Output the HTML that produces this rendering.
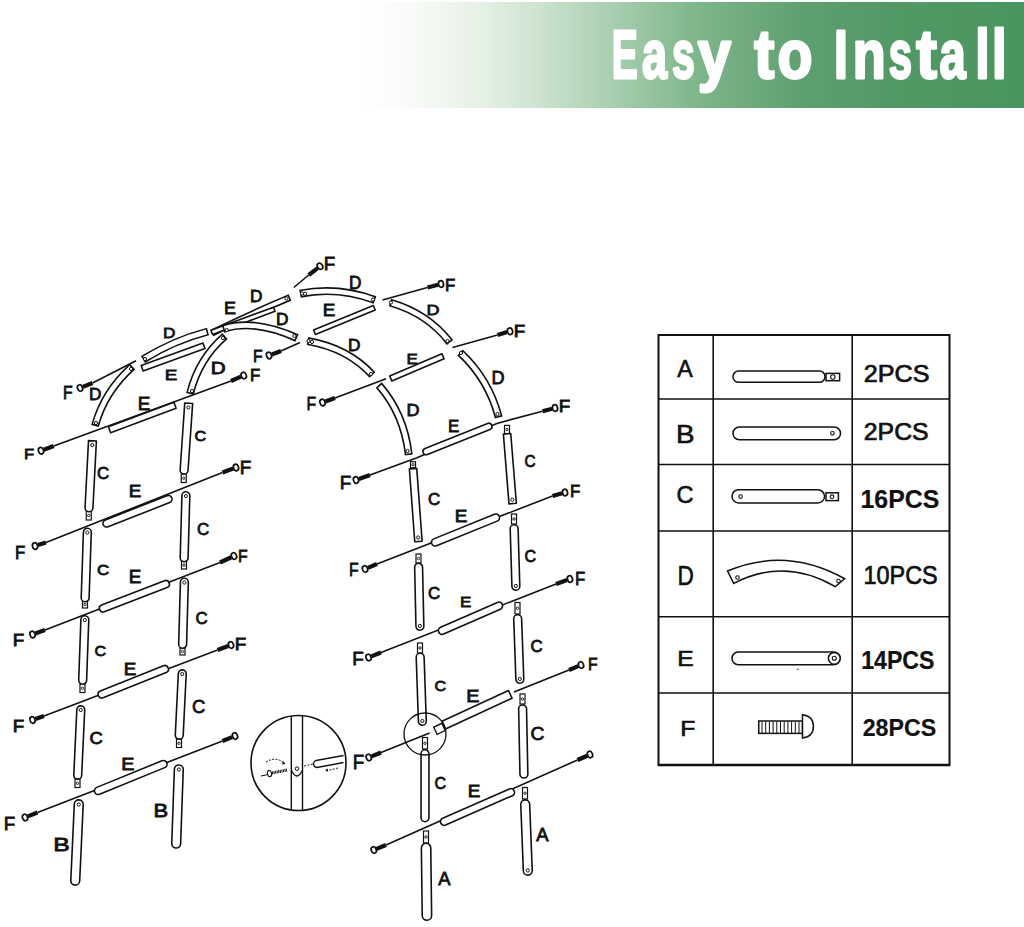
<!DOCTYPE html>
<html><head><meta charset="utf-8"><style>
html,body{margin:0;padding:0;background:#fff;}
body{width:1024px;height:927px;overflow:hidden;position:relative;}
svg{position:absolute;left:0;top:0;}
text{font-family:"Liberation Sans",sans-serif;fill:#111;stroke:#111;stroke-width:0.6;}
text.ttl{fill:#fff;stroke:#fff;stroke-width:2.8;stroke-linejoin:round;}
</style></head><body>
<svg width="1024" height="927" viewBox="0 0 1024 927">
<defs>
<linearGradient id="bn" x1="362" y1="0" x2="1024" y2="0" gradientUnits="userSpaceOnUse">
<stop offset="0" stop-color="#ffffff"/>
<stop offset="0.088" stop-color="#f7faf6"/>
<stop offset="0.178" stop-color="#e6f1e6"/>
<stop offset="0.269" stop-color="#cce3cf"/>
<stop offset="0.37" stop-color="#abd0b2"/>
<stop offset="0.51" stop-color="#7db58a"/>
<stop offset="0.672" stop-color="#5e9f6f"/>
<stop offset="0.813" stop-color="#519865"/>
<stop offset="1" stop-color="#4a955f"/>
</linearGradient>
</defs>
<rect x="362" y="2" width="662" height="106" fill="url(#bn)"/>
<g font-size="68" font-weight="bold"><text x="611.69" y="77.7" textLength="26.04" lengthAdjust="spacingAndGlyphs" class="ttl">E</text><text x="641.98" y="77.7" textLength="25.03" lengthAdjust="spacingAndGlyphs" class="ttl">a</text><text x="671.96" y="77.7" textLength="22.83" lengthAdjust="spacingAndGlyphs" class="ttl">s</text><text x="697.63" y="77.7" textLength="33.29" lengthAdjust="spacingAndGlyphs" class="ttl">y</text><text x="754.26" y="77.7" textLength="20.07" lengthAdjust="spacingAndGlyphs" class="ttl">t</text><text x="777.46" y="77.7" textLength="34.97" lengthAdjust="spacingAndGlyphs" class="ttl">o</text><text x="833.96" y="77.7" textLength="13.89" lengthAdjust="spacingAndGlyphs" class="ttl">I</text><text x="852.75" y="77.7" textLength="32.89" lengthAdjust="spacingAndGlyphs" class="ttl">n</text><text x="888.63" y="77.7" textLength="23.29" lengthAdjust="spacingAndGlyphs" class="ttl">s</text><text x="916.24" y="77.7" textLength="20.61" lengthAdjust="spacingAndGlyphs" class="ttl">t</text><text x="939.52" y="77.7" textLength="26.18" lengthAdjust="spacingAndGlyphs" class="ttl">a</text><text x="975.19" y="77.7" textLength="14.38" lengthAdjust="spacingAndGlyphs" class="ttl">l</text><text x="992.04" y="77.7" textLength="14.58" lengthAdjust="spacingAndGlyphs" class="ttl">l</text></g>
<g>
<line x1="308.75" y1="275" x2="293.75" y2="287.5" stroke="#111" stroke-width="1.6"/>
<line x1="427.5" y1="287.5" x2="382.5" y2="300" stroke="#111" stroke-width="1.6"/>
<line x1="497.5" y1="335" x2="452.5" y2="347.5" stroke="#111" stroke-width="1.6"/>
<line x1="281" y1="351" x2="300" y2="342.5" stroke="#111" stroke-width="1.6"/>
<line x1="92.5" y1="383" x2="136" y2="360.75" stroke="#111" stroke-width="1.6"/>
<line x1="335" y1="398" x2="386" y2="378.75" stroke="#111" stroke-width="1.6"/>
<line x1="53.75" y1="446" x2="231" y2="381" stroke="#111" stroke-width="1.6"/>
<line x1="46" y1="542.5" x2="222.5" y2="472.5" stroke="#111" stroke-width="1.6"/>
<line x1="45" y1="630" x2="220" y2="562.5" stroke="#111" stroke-width="1.6"/>
<line x1="44" y1="716" x2="217.5" y2="650" stroke="#111" stroke-width="1.6"/>
<line x1="37.5" y1="812.5" x2="222.5" y2="741" stroke="#111" stroke-width="1.6"/>
<line x1="370" y1="475" x2="417" y2="457.8" stroke="#111" stroke-width="1.6"/>
<line x1="417" y1="457.8" x2="496.9" y2="423.4" stroke="#111" stroke-width="1.6"/>
<line x1="496.9" y1="423.4" x2="542.5" y2="411.25" stroke="#111" stroke-width="1.6"/>
<line x1="377" y1="564" x2="552.5" y2="496" stroke="#111" stroke-width="1.6"/>
<line x1="381" y1="652.5" x2="556" y2="584" stroke="#111" stroke-width="1.6"/>
<line x1="381" y1="752.5" x2="429.6" y2="733" stroke="#111" stroke-width="1.6"/>
<line x1="514" y1="692" x2="569" y2="670" stroke="#111" stroke-width="1.6"/>
<line x1="386" y1="845" x2="577.5" y2="760" stroke="#111" stroke-width="1.6"/>
<path d="M308.75,275 L317.63,268.09" stroke="#111" stroke-width="4.2" fill="none"/>
<ellipse cx="320" cy="266.25" rx="2.5" ry="3.3" transform="rotate(-37.87 320 266.25)" fill="#fff" stroke="#111" stroke-width="1.7"/>
<path d="M427.5,287.5 L438.1,284.75" stroke="#111" stroke-width="4.2" fill="none"/>
<ellipse cx="441" cy="284" rx="2.5" ry="3.3" transform="rotate(-14.53 441 284)" fill="#fff" stroke="#111" stroke-width="1.7"/>
<path d="M497.5,335 L507.13,332.11" stroke="#111" stroke-width="4.2" fill="none"/>
<ellipse cx="510" cy="331.25" rx="2.5" ry="3.3" transform="rotate(-16.7 510 331.25)" fill="#fff" stroke="#111" stroke-width="1.7"/>
<path d="M542.5,411.25 L552.1,408.75" stroke="#111" stroke-width="4.2" fill="none"/>
<ellipse cx="555" cy="408" rx="2.5" ry="3.3" transform="rotate(-14.57 555 408)" fill="#fff" stroke="#111" stroke-width="1.7"/>
<path d="M281,351 L271.81,354.45" stroke="#111" stroke-width="4.2" fill="none"/>
<ellipse cx="269" cy="355.5" rx="2.5" ry="3.3" transform="rotate(159.44 269 355.5)" fill="#fff" stroke="#111" stroke-width="1.7"/>
<path d="M231,381 L241,376.69" stroke="#111" stroke-width="4.2" fill="none"/>
<ellipse cx="243.75" cy="375.5" rx="2.5" ry="3.3" transform="rotate(-23.33 243.75 375.5)" fill="#fff" stroke="#111" stroke-width="1.7"/>
<path d="M53.75,446 L43.81,449.7" stroke="#111" stroke-width="4.2" fill="none"/>
<ellipse cx="41" cy="450.75" rx="2.5" ry="3.3" transform="rotate(159.57 41 450.75)" fill="#fff" stroke="#111" stroke-width="1.7"/>
<path d="M92.5,383 L82.79,386.89" stroke="#111" stroke-width="4.2" fill="none"/>
<ellipse cx="80" cy="388" rx="2.5" ry="3.3" transform="rotate(158.2 80 388)" fill="#fff" stroke="#111" stroke-width="1.7"/>
<path d="M335,398 L325.32,401.48" stroke="#111" stroke-width="4.2" fill="none"/>
<ellipse cx="322.5" cy="402.5" rx="2.5" ry="3.3" transform="rotate(160.2 322.5 402.5)" fill="#fff" stroke="#111" stroke-width="1.7"/>
<path d="M46,542.5 L37.86,545.09" stroke="#111" stroke-width="4.2" fill="none"/>
<ellipse cx="35" cy="546" rx="2.5" ry="3.3" transform="rotate(162.35 35 546)" fill="#fff" stroke="#111" stroke-width="1.7"/>
<path d="M222.5,472.5 L233.19,468.54" stroke="#111" stroke-width="4.2" fill="none"/>
<ellipse cx="236" cy="467.5" rx="2.5" ry="3.3" transform="rotate(-20.32 236 467.5)" fill="#fff" stroke="#111" stroke-width="1.7"/>
<path d="M45,630 L35.32,633.48" stroke="#111" stroke-width="4.2" fill="none"/>
<ellipse cx="32.5" cy="634.5" rx="2.5" ry="3.3" transform="rotate(160.2 32.5 634.5)" fill="#fff" stroke="#111" stroke-width="1.7"/>
<path d="M220,562.5 L231.28,557.26" stroke="#111" stroke-width="4.2" fill="none"/>
<ellipse cx="234" cy="556" rx="2.5" ry="3.3" transform="rotate(-24.9 234 556)" fill="#fff" stroke="#111" stroke-width="1.7"/>
<path d="M44,716 L35.33,719.01" stroke="#111" stroke-width="4.2" fill="none"/>
<ellipse cx="32.5" cy="720" rx="2.5" ry="3.3" transform="rotate(160.82 32.5 720)" fill="#fff" stroke="#111" stroke-width="1.7"/>
<path d="M217.5,650 L228.19,646.04" stroke="#111" stroke-width="4.2" fill="none"/>
<ellipse cx="231" cy="645" rx="2.5" ry="3.3" transform="rotate(-20.32 231 645)" fill="#fff" stroke="#111" stroke-width="1.7"/>
<path d="M37.5,812.5 L27.79,816.39" stroke="#111" stroke-width="4.2" fill="none"/>
<ellipse cx="25" cy="817.5" rx="2.5" ry="3.3" transform="rotate(158.2 25 817.5)" fill="#fff" stroke="#111" stroke-width="1.7"/>
<path d="M222.5,741 L232.21,737.11" stroke="#111" stroke-width="4.2" fill="none"/>
<ellipse cx="235" cy="736" rx="2.5" ry="3.3" transform="rotate(-21.8 235 736)" fill="#fff" stroke="#111" stroke-width="1.7"/>
<path d="M370,475 L358.83,478.99" stroke="#111" stroke-width="4.2" fill="none"/>
<ellipse cx="356" cy="480" rx="2.5" ry="3.3" transform="rotate(160.35 356 480)" fill="#fff" stroke="#111" stroke-width="1.7"/>
<path d="M552.5,496 L562.11,493.31" stroke="#111" stroke-width="4.2" fill="none"/>
<ellipse cx="565" cy="492.5" rx="2.5" ry="3.3" transform="rotate(-15.64 565 492.5)" fill="#fff" stroke="#111" stroke-width="1.7"/>
<path d="M377,564 L367.77,567.85" stroke="#111" stroke-width="4.2" fill="none"/>
<ellipse cx="365" cy="569" rx="2.5" ry="3.3" transform="rotate(157.38 365 569)" fill="#fff" stroke="#111" stroke-width="1.7"/>
<path d="M556,584 L567.17,580.01" stroke="#111" stroke-width="4.2" fill="none"/>
<ellipse cx="570" cy="579" rx="2.5" ry="3.3" transform="rotate(-19.65 570 579)" fill="#fff" stroke="#111" stroke-width="1.7"/>
<path d="M381,652.5 L371.29,656.39" stroke="#111" stroke-width="4.2" fill="none"/>
<ellipse cx="368.5" cy="657.5" rx="2.5" ry="3.3" transform="rotate(158.2 368.5 657.5)" fill="#fff" stroke="#111" stroke-width="1.7"/>
<path d="M569,670 L578.23,666.15" stroke="#111" stroke-width="4.2" fill="none"/>
<ellipse cx="581" cy="665" rx="2.5" ry="3.3" transform="rotate(-22.62 581 665)" fill="#fff" stroke="#111" stroke-width="1.7"/>
<path d="M381,752.5 L371.53,756.37" stroke="#111" stroke-width="4.2" fill="none"/>
<ellipse cx="368.75" cy="757.5" rx="2.5" ry="3.3" transform="rotate(157.8 368.75 757.5)" fill="#fff" stroke="#111" stroke-width="1.7"/>
<path d="M386,845 L376.53,848.87" stroke="#111" stroke-width="4.2" fill="none"/>
<ellipse cx="373.75" cy="850" rx="2.5" ry="3.3" transform="rotate(157.8 373.75 850)" fill="#fff" stroke="#111" stroke-width="1.7"/>
<path d="M577.5,760 L587.25,755.71" stroke="#111" stroke-width="4.2" fill="none"/>
<ellipse cx="590" cy="754.5" rx="2.5" ry="3.3" transform="rotate(-23.75 590 754.5)" fill="#fff" stroke="#111" stroke-width="1.7"/>
<path d="M95,426 Q104.25,391.75 132.5,366.5" stroke="#111" stroke-width="8" stroke-linecap="butt" fill="none"/>
<path d="M95.42,424.46 Q104.64,391.99 131.31,367.57" stroke="#fff" stroke-width="4.8" stroke-linecap="butt" fill="none"/>
<circle cx="131" cy="369" r="1.6" fill="#fff" stroke="#111" stroke-width="1.0"/>
<circle cx="96" cy="423" r="1.6" fill="#fff" stroke="#111" stroke-width="1.0"/>
<path d="M143.16,371 L204.96,348.55 L202.94,343 L141.14,365.45 Z" fill="#fff" stroke="#111" stroke-width="1.6" stroke-linejoin="round"/>
<path d="M143,359.5 Q173.5,340.5 208,331.5" stroke="#111" stroke-width="8" stroke-linecap="butt" fill="none"/>
<path d="M144.36,358.65 Q173.6,340.72 206.45,331.9" stroke="#fff" stroke-width="4.8" stroke-linecap="butt" fill="none"/>
<circle cx="145" cy="359" r="1.6" fill="#fff" stroke="#111" stroke-width="1.0"/>
<path d="M212,333 Q251,313.75 290,297.5" stroke="#111" stroke-width="7" stroke-linecap="butt" fill="none"/>
<path d="M213.43,332.29 Q251.02,313.8 288.52,298.12" stroke="#fff" stroke-width="3.8" stroke-linecap="butt" fill="none"/>
<circle cx="286.4" cy="298.5" r="1.6" fill="#fff" stroke="#111" stroke-width="1.0"/>
<path d="M212.51,334.49 L275.01,311.34 L273.49,307.21 L210.99,330.36 Z" fill="#fff" stroke="#111" stroke-width="1.6" stroke-linejoin="round"/>
<path d="M300,293.75 Q337.5,286.12 375,300" stroke="#111" stroke-width="8" stroke-linecap="butt" fill="none"/>
<path d="M301.57,293.43 Q337.47,286.56 373.5,299.44" stroke="#fff" stroke-width="4.8" stroke-linecap="butt" fill="none"/>
<circle cx="302" cy="293.5" r="1.6" fill="#fff" stroke="#111" stroke-width="1.0"/>
<circle cx="305" cy="293.8" r="1.6" fill="#fff" stroke="#111" stroke-width="1.0"/>
<circle cx="373" cy="299.5" r="1.6" fill="#fff" stroke="#111" stroke-width="1.0"/>
<path d="M390,302.5 Q428,313.5 450,342.5" stroke="#111" stroke-width="8" stroke-linecap="butt" fill="none"/>
<path d="M391.54,302.94 Q427.72,313.91 449.03,341.23" stroke="#fff" stroke-width="4.8" stroke-linecap="butt" fill="none"/>
<circle cx="391" cy="302.5" r="1.6" fill="#fff" stroke="#111" stroke-width="1.0"/>
<circle cx="447.5" cy="341" r="1.6" fill="#fff" stroke="#111" stroke-width="1.0"/>
<path d="M460,352.5 Q488.62,379 498.75,417.5" stroke="#111" stroke-width="8" stroke-linecap="butt" fill="none"/>
<path d="M461.17,353.59 Q488.24,379.23 498.34,415.95" stroke="#fff" stroke-width="4.8" stroke-linecap="butt" fill="none"/>
<circle cx="461" cy="353" r="1.6" fill="#fff" stroke="#111" stroke-width="1.0"/>
<circle cx="497.5" cy="414" r="1.6" fill="#fff" stroke="#111" stroke-width="1.0"/>
<path d="M190,394 Q198.5,359 225,336" stroke="#111" stroke-width="8" stroke-linecap="butt" fill="none"/>
<path d="M190.38,392.45 Q198.92,359.25 223.79,337.05" stroke="#fff" stroke-width="4.8" stroke-linecap="butt" fill="none"/>
<circle cx="192" cy="391" r="1.6" fill="#fff" stroke="#111" stroke-width="1.0"/>
<circle cx="223" cy="338" r="1.6" fill="#fff" stroke="#111" stroke-width="1.0"/>
<path d="M223,329 Q254,318.5 297,338" stroke="#111" stroke-width="8" stroke-linecap="butt" fill="none"/>
<path d="M224.52,328.49 Q253.97,319.09 295.54,337.34" stroke="#fff" stroke-width="4.8" stroke-linecap="butt" fill="none"/>
<circle cx="226.7" cy="330" r="1.6" fill="#fff" stroke="#111" stroke-width="1.0"/>
<circle cx="294.4" cy="336" r="1.6" fill="#fff" stroke="#111" stroke-width="1.0"/>
<path d="M307.5,341 Q348,348 372.5,375" stroke="#111" stroke-width="8" stroke-linecap="butt" fill="none"/>
<path d="M309.08,341.27 Q347.75,348.46 371.42,373.82" stroke="#fff" stroke-width="4.8" stroke-linecap="butt" fill="none"/>
<circle cx="308.5" cy="341" r="1.6" fill="#fff" stroke="#111" stroke-width="1.0"/>
<circle cx="312" cy="342" r="1.6" fill="#fff" stroke="#111" stroke-width="1.0"/>
<circle cx="371" cy="374" r="1.6" fill="#fff" stroke="#111" stroke-width="1.0"/>
<path d="M378.75,385 Q404.25,414 408.75,455" stroke="#111" stroke-width="8" stroke-linecap="butt" fill="none"/>
<path d="M379.81,386.2 Q403.81,414.19 408.58,453.41" stroke="#fff" stroke-width="4.8" stroke-linecap="butt" fill="none"/>
<circle cx="407.5" cy="451" r="1.6" fill="#fff" stroke="#111" stroke-width="1.0"/>
<path d="M110.62,432.72 L176.12,408.28 L173.88,402.28 L108.38,426.72 Z" fill="#fff" stroke="#111" stroke-width="1.6" stroke-linejoin="round"/>
<path d="M315.42,334.47 L375.19,310.07 L373.33,305.53 L313.56,329.93 Z" fill="#fff" stroke="#111" stroke-width="1.6" stroke-linejoin="round"/>
<path d="M391.79,380.92 L444.07,358.8 L441.96,353.83 L389.68,375.95 Z" fill="#fff" stroke="#111" stroke-width="1.6" stroke-linejoin="round"/>
<path d="M427.4,454.49 L489.97,429.46 A3.2 3.2 0 0 0 487.6,423.51 L425.03,448.54 A3.2 3.2 0 0 0 427.4,454.49 Z" fill="#fff" stroke="#111" stroke-width="1.6" stroke-linejoin="round"/>
<path d="M108.04,526.8 L169.66,502.59 A3.7 3.7 0 0 0 166.96,495.7 L105.34,519.91 A3.7 3.7 0 0 0 108.04,526.8 Z" fill="#fff" stroke="#111" stroke-width="1.6" stroke-linejoin="round"/>
<path d="M104.28,611.83 L167.13,587.57 A3.7 3.7 0 0 0 164.47,580.67 L101.62,604.93 A3.7 3.7 0 0 0 104.28,611.83 Z" fill="#fff" stroke="#111" stroke-width="1.6" stroke-linejoin="round"/>
<path d="M103.05,697.77 L166.19,672.6 A3.7 3.7 0 0 0 163.45,665.73 L100.31,690.9 A3.7 3.7 0 0 0 103.05,697.77 Z" fill="#fff" stroke="#111" stroke-width="1.6" stroke-linejoin="round"/>
<path d="M99.56,794.23 L164.73,767.63 A3.7 3.7 0 0 0 161.94,760.77 L96.77,787.37 A3.7 3.7 0 0 0 99.56,794.23 Z" fill="#fff" stroke="#111" stroke-width="1.6" stroke-linejoin="round"/>
<path d="M436.56,545.74 L497.22,521.12 A3.7 3.7 0 0 0 494.44,514.26 L433.78,538.88 A3.7 3.7 0 0 0 436.56,545.74 Z" fill="#fff" stroke="#111" stroke-width="1.6" stroke-linejoin="round"/>
<path d="M443.61,634.08 L500.36,609.2 A3.7 3.7 0 0 0 497.39,602.42 L440.64,627.3 A3.7 3.7 0 0 0 443.61,634.08 Z" fill="#fff" stroke="#111" stroke-width="1.6" stroke-linejoin="round"/>
<path d="M445.61,825.07 L512.37,795.7 A3.7 3.7 0 0 0 509.39,788.93 L442.63,818.3 A3.7 3.7 0 0 0 445.61,825.07 Z" fill="#fff" stroke="#111" stroke-width="1.6" stroke-linejoin="round"/>
<path d="M445.49,728.97 L512.04,698.15 L508.51,690.53 L441.96,721.35 Z" fill="#fff" stroke="#111" stroke-width="1.6" stroke-linejoin="round"/>
<rect x="435" y="724.8" width="9" height="8" transform="rotate(-25 439.5 728.8)" fill="#fff" stroke="#111" stroke-width="1.4"/>
<rect x="86.25" y="511" width="5" height="9" fill="#fff" stroke="#111" stroke-width="1.2"/>
<circle cx="88.75" cy="515.5" r="1.2" fill="#fff" stroke="#111" stroke-width="0.9"/>
<path d="M88.51,440.59 L85.05,507.55 A3.95 3.95 0 0 0 92.94,507.96 L96.4,441 Z" fill="#fff" stroke="#111" stroke-width="1.6" stroke-linejoin="round"/>
<circle cx="92.24" cy="445.04" r="1.6" fill="#fff" stroke="#111" stroke-width="1.0"/>
<rect x="82.5" y="601" width="5" height="7" fill="#fff" stroke="#111" stroke-width="1.2"/>
<circle cx="85" cy="604.5" r="1.2" fill="#fff" stroke="#111" stroke-width="0.9"/>
<path d="M83.39,532.12 L81.21,597.62 A3.95 3.95 0 0 0 89.11,597.88 L91.29,532.38 A3.95 3.95 0 0 0 83.39,532.12 Z" fill="#fff" stroke="#111" stroke-width="1.6" stroke-linejoin="round"/>
<circle cx="87.33" cy="532.55" r="1.6" fill="#fff" stroke="#111" stroke-width="1.0"/>
<rect x="80" y="684" width="5" height="8.5" fill="#fff" stroke="#111" stroke-width="1.2"/>
<circle cx="82.5" cy="688.25" r="1.2" fill="#fff" stroke="#111" stroke-width="0.9"/>
<path d="M80.88,619.61 L78.72,680.11 A3.95 3.95 0 0 0 86.62,680.39 L88.78,619.89 A3.95 3.95 0 0 0 80.88,619.61 Z" fill="#fff" stroke="#111" stroke-width="1.6" stroke-linejoin="round"/>
<circle cx="84.82" cy="620.05" r="1.6" fill="#fff" stroke="#111" stroke-width="1.0"/>
<rect x="75" y="779" width="5" height="8.5" fill="#fff" stroke="#111" stroke-width="1.2"/>
<circle cx="77.5" cy="783.25" r="1.2" fill="#fff" stroke="#111" stroke-width="0.9"/>
<path d="M76.83,709.56 L73.78,775.07 A3.95 3.95 0 0 0 81.67,775.44 L84.72,709.93 A3.95 3.95 0 0 0 76.83,709.56 Z" fill="#fff" stroke="#111" stroke-width="1.6" stroke-linejoin="round"/>
<circle cx="80.76" cy="710.04" r="1.6" fill="#fff" stroke="#111" stroke-width="1.0"/>
<path d="M74.31,804.04 L70.8,880.55 A4.45 4.45 0 0 0 79.69,880.96 L83.2,804.45 A4.45 4.45 0 0 0 74.31,804.04 Z" fill="#fff" stroke="#111" stroke-width="1.6" stroke-linejoin="round"/>
<circle cx="78.75" cy="804.54" r="1.6" fill="#fff" stroke="#111" stroke-width="1.0"/>
<rect x="181.25" y="474" width="5" height="8.5" fill="#fff" stroke="#111" stroke-width="1.2"/>
<circle cx="183.75" cy="478.25" r="1.2" fill="#fff" stroke="#111" stroke-width="0.9"/>
<path d="M184.75,403.03 L180.14,469.99 A3.95 3.95 0 0 0 188.02,470.53 L192.64,403.57 Z" fill="#fff" stroke="#111" stroke-width="1.6" stroke-linejoin="round"/>
<circle cx="188.4" cy="407.54" r="1.6" fill="#fff" stroke="#111" stroke-width="1.0"/>
<rect x="181.5" y="561" width="5" height="8" fill="#fff" stroke="#111" stroke-width="1.2"/>
<circle cx="184" cy="565" r="1.2" fill="#fff" stroke="#111" stroke-width="0.9"/>
<path d="M181.92,495.64 L180.18,557.64 A3.95 3.95 0 0 0 188.08,557.86 L189.82,495.86 A3.95 3.95 0 0 0 181.92,495.64 Z" fill="#fff" stroke="#111" stroke-width="1.6" stroke-linejoin="round"/>
<circle cx="185.86" cy="496.05" r="1.6" fill="#fff" stroke="#111" stroke-width="1.0"/>
<rect x="180" y="648" width="5" height="7" fill="#fff" stroke="#111" stroke-width="1.2"/>
<circle cx="182.5" cy="651.5" r="1.2" fill="#fff" stroke="#111" stroke-width="0.9"/>
<path d="M180.42,582.14 L178.68,644.14 A3.95 3.95 0 0 0 186.58,644.36 L188.32,582.36 A3.95 3.95 0 0 0 180.42,582.14 Z" fill="#fff" stroke="#111" stroke-width="1.6" stroke-linejoin="round"/>
<circle cx="184.36" cy="582.55" r="1.6" fill="#fff" stroke="#111" stroke-width="1.0"/>
<rect x="176.5" y="739" width="5" height="8.5" fill="#fff" stroke="#111" stroke-width="1.2"/>
<circle cx="179" cy="743.25" r="1.2" fill="#fff" stroke="#111" stroke-width="0.9"/>
<path d="M178.32,673.55 L175.29,735.06 A3.95 3.95 0 0 0 183.18,735.45 L186.21,673.94 A3.95 3.95 0 0 0 178.32,673.55 Z" fill="#fff" stroke="#111" stroke-width="1.6" stroke-linejoin="round"/>
<circle cx="182.25" cy="674.04" r="1.6" fill="#fff" stroke="#111" stroke-width="1.0"/>
<path d="M174.37,769.09 L171.74,843.6 A4.45 4.45 0 0 0 180.63,843.91 L183.26,769.4 A4.45 4.45 0 0 0 174.37,769.09 Z" fill="#fff" stroke="#111" stroke-width="1.6" stroke-linejoin="round"/>
<circle cx="178.8" cy="769.55" r="1.6" fill="#fff" stroke="#111" stroke-width="1.0"/>
<rect x="410.5" y="461.7" width="5" height="6.1" fill="#fff" stroke="#111" stroke-width="1.2"/>
<circle cx="413" cy="464.75" r="1.2" fill="#fff" stroke="#111" stroke-width="0.9"/>
<path d="M409.37,468.87 L414.75,541.77 L422.13,541.23 L416.75,468.33 Z" fill="#fff" stroke="#111" stroke-width="1.6" stroke-linejoin="round"/>
<circle cx="418.15" cy="537.51" r="1.6" fill="#fff" stroke="#111" stroke-width="1.0"/>
<rect x="416" y="554" width="5" height="9" fill="#fff" stroke="#111" stroke-width="1.2"/>
<circle cx="418.5" cy="558.5" r="1.2" fill="#fff" stroke="#111" stroke-width="0.9"/>
<path d="M414.65,567.34 L415.95,626.34 A3.95 3.95 0 0 0 423.85,626.16 L422.55,567.16 A3.95 3.95 0 0 0 414.65,567.34 Z" fill="#fff" stroke="#111" stroke-width="1.6" stroke-linejoin="round"/>
<circle cx="419.89" cy="625.95" r="1.6" fill="#fff" stroke="#111" stroke-width="1.0"/>
<rect x="417.5" y="643" width="5" height="10" fill="#fff" stroke="#111" stroke-width="1.2"/>
<circle cx="420" cy="648" r="1.2" fill="#fff" stroke="#111" stroke-width="0.9"/>
<path d="M416.21,657.38 L418.39,721.39 A3.95 3.95 0 0 0 426.29,721.12 L424.11,657.11 A3.95 3.95 0 0 0 416.21,657.38 Z" fill="#fff" stroke="#111" stroke-width="1.6" stroke-linejoin="round"/>
<circle cx="422.33" cy="720.95" r="1.6" fill="#fff" stroke="#111" stroke-width="1.0"/>
<rect x="422.5" y="737.5" width="5" height="11.5" fill="#fff" stroke="#111" stroke-width="1.2"/>
<circle cx="425" cy="743.25" r="1.2" fill="#fff" stroke="#111" stroke-width="0.9"/>
<path d="M421.05,753.75 L421.05,817.75 A3.95 3.95 0 0 0 428.95,817.75 L428.95,753.75 A3.95 3.95 0 0 0 421.05,753.75 Z" fill="#fff" stroke="#111" stroke-width="1.6" stroke-linejoin="round"/>
<rect x="423.5" y="831" width="5" height="12" fill="#fff" stroke="#111" stroke-width="1.2"/>
<circle cx="426" cy="837" r="1.2" fill="#fff" stroke="#111" stroke-width="0.9"/>
<path d="M421.37,848.06 L422.23,915.56 A4.7 4.7 0 0 0 431.63,915.44 L430.77,847.94 A4.7 4.7 0 0 0 421.37,848.06 Z" fill="#fff" stroke="#111" stroke-width="1.6" stroke-linejoin="round"/>
<rect x="504.5" y="425.4" width="5" height="8.2" fill="#fff" stroke="#111" stroke-width="1.2"/>
<circle cx="507" cy="429.5" r="1.2" fill="#fff" stroke="#111" stroke-width="0.9"/>
<path d="M503.38,434.09 L509,503.9 L516.37,503.31 L510.75,433.5 Z" fill="#fff" stroke="#111" stroke-width="1.6" stroke-linejoin="round"/>
<circle cx="512.36" cy="499.62" r="1.6" fill="#fff" stroke="#111" stroke-width="1.0"/>
<rect x="511.5" y="514" width="5" height="10" fill="#fff" stroke="#111" stroke-width="1.2"/>
<circle cx="514" cy="519" r="1.2" fill="#fff" stroke="#111" stroke-width="0.9"/>
<path d="M510.19,528.87 L511.91,586.37 A3.95 3.95 0 0 0 519.81,586.13 L518.09,528.63 A3.95 3.95 0 0 0 510.19,528.87 Z" fill="#fff" stroke="#111" stroke-width="1.6" stroke-linejoin="round"/>
<circle cx="515.85" cy="585.95" r="1.6" fill="#fff" stroke="#111" stroke-width="1.0"/>
<rect x="515" y="602.5" width="5" height="11.5" fill="#fff" stroke="#111" stroke-width="1.2"/>
<circle cx="517.5" cy="608.25" r="1.2" fill="#fff" stroke="#111" stroke-width="0.9"/>
<path d="M513.72,618.89 L515.88,679.39 A3.95 3.95 0 0 0 523.78,679.11 L521.62,618.61 A3.95 3.95 0 0 0 513.72,618.89 Z" fill="#fff" stroke="#111" stroke-width="1.6" stroke-linejoin="round"/>
<circle cx="519.82" cy="678.95" r="1.6" fill="#fff" stroke="#111" stroke-width="1.0"/>
<rect x="520" y="694" width="5" height="10" fill="#fff" stroke="#111" stroke-width="1.2"/>
<circle cx="522.5" cy="699" r="1.2" fill="#fff" stroke="#111" stroke-width="0.9"/>
<path d="M518.65,708.83 L519.96,774.33 A3.95 3.95 0 0 0 527.85,774.17 L526.54,708.67 A3.95 3.95 0 0 0 518.65,708.83 Z" fill="#fff" stroke="#111" stroke-width="1.6" stroke-linejoin="round"/>
<rect x="522.5" y="787.5" width="5" height="11.5" fill="#fff" stroke="#111" stroke-width="1.2"/>
<circle cx="525" cy="793.25" r="1.2" fill="#fff" stroke="#111" stroke-width="0.9"/>
<path d="M520.76,804.42 L523.35,870.93 A4.45 4.45 0 0 0 532.24,870.58 L529.65,804.07 A4.45 4.45 0 0 0 520.76,804.42 Z" fill="#fff" stroke="#111" stroke-width="1.6" stroke-linejoin="round"/>
<circle cx="527.78" cy="870.45" r="1.6" fill="#fff" stroke="#111" stroke-width="1.0"/>
<circle cx="425" cy="734" r="21" fill="none" stroke="#111" stroke-width="1.3"/>
<circle cx="298.5" cy="763" r="47.5" fill="#fff" stroke="#111" stroke-width="1.6"/>
<line x1="291.3" y1="716" x2="291.3" y2="810" stroke="#111" stroke-width="1.4"/>
<line x1="302.5" y1="716" x2="302.5" y2="810" stroke="#111" stroke-width="1.4"/>
<path d="M291.3 770 Q297 782 302.5 770" fill="none" stroke="#111" stroke-width="1.3"/>
<circle cx="297" cy="768.7" r="1.8" fill="#fff" stroke="#111" stroke-width="1.0"/>
<path d="M343.5 755.5 L316 760.5 A3.6 3.6 0 0 0 317 767.5 L343.5 762.5" fill="#fff" stroke="#111" stroke-width="1.3"/>
<line x1="326" y1="771" x2="338" y2="768" stroke="#111" stroke-width="1" stroke-dasharray="2,1.5"/>
<path d="M325 770 l3 -1.5 l-0.5 3 z" fill="#111"/>
<line x1="261" y1="776" x2="268" y2="774.5" stroke="#111" stroke-width="1.1"/>
<line x1="304" y1="766" x2="313" y2="764" stroke="#111" stroke-width="1" stroke-dasharray="2,1.5"/>
<ellipse cx="269.5" cy="773.5" rx="2" ry="3.2" transform="rotate(-15 269.5 773.5)" fill="#fff" stroke="#111" stroke-width="1.1"/>
<path d="M272 773 L287 770" stroke="#111" stroke-width="3" stroke-dasharray="1,0.6"/>
<path d="M266 762 Q276 756 284 763" fill="none" stroke="#111" stroke-width="1" stroke-dasharray="2,1.3"/>
<path d="M283 761 l2.5 3 l-3.5 0.5 z" fill="#111"/>
</g>
<g>
<text x="63.11" y="398.60" font-size="17.73" font-weight="normal" textLength="9.62" lengthAdjust="spacingAndGlyphs" style="stroke-width:0.80">F</text>
<text x="88.99" y="399.60" font-size="17.01" font-weight="normal" textLength="12.44" lengthAdjust="spacingAndGlyphs" style="stroke-width:0.80">D</text>
<text x="24.02" y="458.60" font-size="15.55" font-weight="normal" textLength="10.25" lengthAdjust="spacingAndGlyphs" style="stroke-width:0.80">F</text>
<text x="137.86" y="409.60" font-size="19.19" font-weight="normal" textLength="12.55" lengthAdjust="spacingAndGlyphs" style="stroke-width:0.80">E</text>
<text x="162.99" y="338.10" font-size="15.55" font-weight="normal" textLength="12.44" lengthAdjust="spacingAndGlyphs" style="stroke-width:0.80">D</text>
<text x="164.86" y="379.60" font-size="15.55" font-weight="normal" textLength="12.55" lengthAdjust="spacingAndGlyphs" style="stroke-width:0.80">E</text>
<text x="210.71" y="373.60" font-size="16.28" font-weight="normal" textLength="14.88" lengthAdjust="spacingAndGlyphs" style="stroke-width:0.80">D</text>
<text x="194.58" y="441.46" font-size="14.41" font-weight="normal" textLength="11.63" lengthAdjust="spacingAndGlyphs" style="stroke-width:0.80">C</text>
<text x="223.93" y="314.10" font-size="16.28" font-weight="normal" textLength="11.94" lengthAdjust="spacingAndGlyphs" style="stroke-width:0.80">E</text>
<text x="323.86" y="269.60" font-size="19.19" font-weight="normal" textLength="11.50" lengthAdjust="spacingAndGlyphs" style="stroke-width:0.80">F</text>
<text x="249.99" y="301.60" font-size="16.28" font-weight="normal" textLength="12.44" lengthAdjust="spacingAndGlyphs" style="stroke-width:0.80">D</text>
<text x="275.99" y="325.10" font-size="16.28" font-weight="normal" textLength="12.44" lengthAdjust="spacingAndGlyphs" style="stroke-width:0.80">D</text>
<text x="348.99" y="288.60" font-size="17.73" font-weight="normal" textLength="12.44" lengthAdjust="spacingAndGlyphs" style="stroke-width:0.80">D</text>
<text x="322.86" y="315.60" font-size="16.28" font-weight="normal" textLength="12.55" lengthAdjust="spacingAndGlyphs" style="stroke-width:0.80">E</text>
<text x="445.02" y="290.60" font-size="16.28" font-weight="normal" textLength="10.25" lengthAdjust="spacingAndGlyphs" style="stroke-width:0.80">F</text>
<text x="426.42" y="315.10" font-size="15.55" font-weight="normal" textLength="13.05" lengthAdjust="spacingAndGlyphs" style="stroke-width:0.80">D</text>
<text x="253.11" y="361.60" font-size="17.01" font-weight="normal" textLength="9.62" lengthAdjust="spacingAndGlyphs" style="stroke-width:0.80">F</text>
<text x="347.99" y="350.60" font-size="16.28" font-weight="normal" textLength="12.44" lengthAdjust="spacingAndGlyphs" style="stroke-width:0.80">D</text>
<text x="250.02" y="380.60" font-size="16.28" font-weight="normal" textLength="10.25" lengthAdjust="spacingAndGlyphs" style="stroke-width:0.80">F</text>
<text x="406.51" y="363.60" font-size="15.55" font-weight="normal" textLength="11.32" lengthAdjust="spacingAndGlyphs" style="stroke-width:0.80">E</text>
<text x="306.61" y="409.60" font-size="19.19" font-weight="normal" textLength="9.62" lengthAdjust="spacingAndGlyphs" style="stroke-width:0.80">F</text>
<text x="406.42" y="415.60" font-size="16.28" font-weight="normal" textLength="13.05" lengthAdjust="spacingAndGlyphs" style="stroke-width:0.80">D</text>
<text x="239.86" y="473.60" font-size="17.73" font-weight="normal" textLength="11.50" lengthAdjust="spacingAndGlyphs" style="stroke-width:0.80">F</text>
<text x="513.86" y="337.10" font-size="17.01" font-weight="normal" textLength="11.50" lengthAdjust="spacingAndGlyphs" style="stroke-width:0.80">F</text>
<text x="491.42" y="383.60" font-size="17.73" font-weight="normal" textLength="13.05" lengthAdjust="spacingAndGlyphs" style="stroke-width:0.80">D</text>
<text x="558.86" y="412.10" font-size="17.01" font-weight="normal" textLength="11.50" lengthAdjust="spacingAndGlyphs" style="stroke-width:0.80">F</text>
<text x="448.01" y="432.10" font-size="17.01" font-weight="normal" textLength="11.32" lengthAdjust="spacingAndGlyphs" style="stroke-width:0.80">E</text>
<text x="524.62" y="467.45" font-size="15.82" font-weight="normal" textLength="11.06" lengthAdjust="spacingAndGlyphs" style="stroke-width:0.80">C</text>
<text x="97.04" y="479.44" font-size="16.53" font-weight="normal" textLength="12.20" lengthAdjust="spacingAndGlyphs" style="stroke-width:0.80">C</text>
<text x="97.04" y="574.95" font-size="15.11" font-weight="normal" textLength="12.20" lengthAdjust="spacingAndGlyphs" style="stroke-width:0.80">C</text>
<text x="94.58" y="655.95" font-size="15.11" font-weight="normal" textLength="11.63" lengthAdjust="spacingAndGlyphs" style="stroke-width:0.80">C</text>
<text x="15.02" y="558.60" font-size="17.73" font-weight="normal" textLength="10.25" lengthAdjust="spacingAndGlyphs" style="stroke-width:0.80">F</text>
<text x="12.86" y="645.60" font-size="16.28" font-weight="normal" textLength="11.50" lengthAdjust="spacingAndGlyphs" style="stroke-width:0.80">F</text>
<text x="128.86" y="497.10" font-size="17.01" font-weight="normal" textLength="12.55" lengthAdjust="spacingAndGlyphs" style="stroke-width:0.80">E</text>
<text x="128.86" y="583.10" font-size="17.73" font-weight="normal" textLength="12.55" lengthAdjust="spacingAndGlyphs" style="stroke-width:0.80">E</text>
<text x="197.04" y="535.45" font-size="15.82" font-weight="normal" textLength="12.20" lengthAdjust="spacingAndGlyphs" style="stroke-width:0.80">C</text>
<text x="195.54" y="624.44" font-size="16.53" font-weight="normal" textLength="12.20" lengthAdjust="spacingAndGlyphs" style="stroke-width:0.80">C</text>
<text x="238.11" y="562.10" font-size="17.01" font-weight="normal" textLength="9.62" lengthAdjust="spacingAndGlyphs" style="stroke-width:0.80">F</text>
<text x="234.86" y="649.60" font-size="17.01" font-weight="normal" textLength="11.50" lengthAdjust="spacingAndGlyphs" style="stroke-width:0.80">F</text>
<text x="89.46" y="744.44" font-size="16.53" font-weight="normal" textLength="13.34" lengthAdjust="spacingAndGlyphs" style="stroke-width:0.80">C</text>
<text x="53.37" y="850.60" font-size="18.46" font-weight="normal" textLength="16.54" lengthAdjust="spacingAndGlyphs" style="stroke-width:0.80">B</text>
<text x="12.86" y="732.10" font-size="17.01" font-weight="normal" textLength="11.50" lengthAdjust="spacingAndGlyphs" style="stroke-width:0.80">F</text>
<text x="3.86" y="829.60" font-size="19.19" font-weight="normal" textLength="11.50" lengthAdjust="spacingAndGlyphs" style="stroke-width:0.80">F</text>
<text x="123.86" y="674.60" font-size="17.01" font-weight="normal" textLength="12.55" lengthAdjust="spacingAndGlyphs" style="stroke-width:0.80">E</text>
<text x="121.28" y="769.60" font-size="17.01" font-weight="normal" textLength="13.17" lengthAdjust="spacingAndGlyphs" style="stroke-width:0.80">E</text>
<text x="191.96" y="713.42" font-size="18.64" font-weight="normal" textLength="13.34" lengthAdjust="spacingAndGlyphs" style="stroke-width:0.80">C</text>
<text x="153.60" y="817.10" font-size="18.46" font-weight="normal" textLength="14.66" lengthAdjust="spacingAndGlyphs" style="stroke-width:0.80">B</text>
<text x="428.04" y="505.45" font-size="15.82" font-weight="normal" textLength="12.20" lengthAdjust="spacingAndGlyphs" style="stroke-width:0.80">C</text>
<text x="428.04" y="599.44" font-size="16.53" font-weight="normal" textLength="12.20" lengthAdjust="spacingAndGlyphs" style="stroke-width:0.80">C</text>
<text x="339.86" y="488.60" font-size="19.19" font-weight="normal" textLength="11.50" lengthAdjust="spacingAndGlyphs" style="stroke-width:0.80">F</text>
<text x="349.11" y="575.60" font-size="18.46" font-weight="normal" textLength="9.62" lengthAdjust="spacingAndGlyphs" style="stroke-width:0.80">F</text>
<text x="352.36" y="664.60" font-size="19.19" font-weight="normal" textLength="11.50" lengthAdjust="spacingAndGlyphs" style="stroke-width:0.80">F</text>
<text x="454.86" y="522.10" font-size="17.01" font-weight="normal" textLength="12.55" lengthAdjust="spacingAndGlyphs" style="stroke-width:0.80">E</text>
<text x="460.01" y="607.10" font-size="15.55" font-weight="normal" textLength="11.32" lengthAdjust="spacingAndGlyphs" style="stroke-width:0.80">E</text>
<text x="524.58" y="561.94" font-size="16.53" font-weight="normal" textLength="11.63" lengthAdjust="spacingAndGlyphs" style="stroke-width:0.80">C</text>
<text x="530.54" y="651.94" font-size="16.53" font-weight="normal" textLength="12.20" lengthAdjust="spacingAndGlyphs" style="stroke-width:0.80">C</text>
<text x="570.02" y="497.10" font-size="17.01" font-weight="normal" textLength="10.25" lengthAdjust="spacingAndGlyphs" style="stroke-width:0.80">F</text>
<text x="575.02" y="584.60" font-size="19.19" font-weight="normal" textLength="10.25" lengthAdjust="spacingAndGlyphs" style="stroke-width:0.80">F</text>
<text x="588.11" y="669.60" font-size="17.01" font-weight="normal" textLength="9.62" lengthAdjust="spacingAndGlyphs" style="stroke-width:0.80">F</text>
<text x="434.58" y="690.95" font-size="15.11" font-weight="normal" textLength="11.63" lengthAdjust="spacingAndGlyphs" style="stroke-width:0.80">C</text>
<text x="434.58" y="789.44" font-size="16.53" font-weight="normal" textLength="11.63" lengthAdjust="spacingAndGlyphs" style="stroke-width:0.80">C</text>
<text x="352.86" y="768.60" font-size="20.64" font-weight="normal" textLength="11.50" lengthAdjust="spacingAndGlyphs" style="stroke-width:0.80">F</text>
<text x="466.28" y="702.10" font-size="17.01" font-weight="normal" textLength="13.17" lengthAdjust="spacingAndGlyphs" style="stroke-width:0.80">E</text>
<text x="467.86" y="797.10" font-size="17.01" font-weight="normal" textLength="12.55" lengthAdjust="spacingAndGlyphs" style="stroke-width:0.80">E</text>
<text x="530.42" y="740.42" font-size="17.94" font-weight="normal" textLength="13.91" lengthAdjust="spacingAndGlyphs" style="stroke-width:0.80">C</text>
<text x="536.36" y="840.60" font-size="18.46" font-weight="normal" textLength="12.27" lengthAdjust="spacingAndGlyphs" style="stroke-width:0.80">A</text>
<text x="438.36" y="884.60" font-size="19.19" font-weight="normal" textLength="12.27" lengthAdjust="spacingAndGlyphs" style="stroke-width:0.80">A</text>
</g>
<g stroke="#111" fill="none">
<rect x="658.5" y="335" width="291" height="430" stroke-width="2"/>
<line x1="713.2" y1="335" x2="713.2" y2="765" stroke-width="1.6"/>
<line x1="852.2" y1="335" x2="852.2" y2="765" stroke-width="1.6"/>
<line x1="658.5" y1="399" x2="949.5" y2="399" stroke-width="1.5"/>
<line x1="658.5" y1="464.6" x2="949.5" y2="464.6" stroke-width="1.5"/>
<line x1="658.5" y1="531" x2="949.5" y2="531" stroke-width="1.5"/>
<line x1="658.5" y1="616.8" x2="949.5" y2="616.8" stroke-width="1.5"/>
<line x1="658.5" y1="693" x2="949.5" y2="693" stroke-width="1.5"/>
<line x1="658" y1="765" x2="950" y2="765" stroke-width="2.6"/>
</g>
<g stroke="#111" stroke-width="1.5" fill="#fff">
<rect x="733" y="371" width="92" height="11.3" rx="5.6"/>
<rect x="826" y="373.4" width="13.6" height="7.3"/>
<circle cx="832.8" cy="377" r="2.2" stroke-width="1.1"/>
<rect x="733" y="427" width="107.5" height="12.7" rx="6.3"/>
<circle cx="832.4" cy="433.3" r="1.8" stroke-width="1.1"/>
<rect x="732" y="489.7" width="92.5" height="13.3" rx="6.6"/>
<rect x="826" y="492.8" width="12.4" height="7.8"/>
<circle cx="740.6" cy="496.6" r="1.8" stroke-width="1.1"/>
<circle cx="832" cy="496.7" r="1.8" stroke-width="1.1"/>
<path d="M727.5 571 Q786 546.3 844.7 578.75 L835.3 586.6 Q784.5 557 733.75 583.4 Z"/>
<circle cx="737.5" cy="577.5" r="1.8" stroke-width="1.1"/>
<circle cx="838.5" cy="581" r="1.8" stroke-width="1.1"/>
<rect x="732" y="652" width="108" height="12.7" rx="6.3"/>
<circle cx="834.3" cy="658.3" r="5.9"/>
<circle cx="834.3" cy="658.3" r="2" stroke-width="1.1"/>
<rect x="758.75" y="721" width="43.75" height="12.4"/>
<path d="M802.5 714.7 Q813.4 716 813.4 726.3 Q813.4 737 802.5 738 Z"/>
</g>
<path d="M762 721.5 V733M765.7 721.5 V733M769.4 721.5 V733M773.1 721.5 V733M776.8 721.5 V733M780.5 721.5 V733M784.2 721.5 V733M787.9 721.5 V733M791.6 721.5 V733M795.3 721.5 V733M799 721.5 V733" stroke="#111" stroke-width="1"/>
<circle cx="797.8" cy="669.4" r="0.8" fill="#333"/>
<text x="677.25" y="377.20" font-size="24.56" font-weight="normal" textLength="15.49" lengthAdjust="spacingAndGlyphs" style="stroke-width:0.60">A</text>
<text x="676.02" y="442.70" font-size="25.29" font-weight="normal" textLength="18.55" lengthAdjust="spacingAndGlyphs" style="stroke-width:0.60">B</text>
<text x="676.61" y="503.47" font-size="23.87" font-weight="normal" textLength="16.99" lengthAdjust="spacingAndGlyphs" style="stroke-width:0.60">C</text>
<text x="677.44" y="584.70" font-size="26.74" font-weight="normal" textLength="16.34" lengthAdjust="spacingAndGlyphs" style="stroke-width:0.60">D</text>
<text x="677.27" y="665.70" font-size="21.51" font-weight="normal" textLength="16.49" lengthAdjust="spacingAndGlyphs" style="stroke-width:0.60">E</text>
<text x="680.27" y="736.30" font-size="21.80" font-weight="normal" textLength="15.12" lengthAdjust="spacingAndGlyphs" style="stroke-width:0.60">F</text>
<text x="863.79" y="382.43" font-size="23.02" font-weight="normal" textLength="65.62" lengthAdjust="spacingAndGlyphs" style="stroke-width:0.70">2PCS</text>
<text x="863.80" y="439.91" font-size="24.15" font-weight="normal" textLength="64.79" lengthAdjust="spacingAndGlyphs" style="stroke-width:0.70">2PCS</text>
<text x="860.53" y="508.04" font-size="26.13" font-weight="bold" textLength="78.74" lengthAdjust="spacingAndGlyphs" style="stroke-width:0.20">16PCS</text>
<text x="863.57" y="584.40" font-size="25.85" font-weight="normal" textLength="74.16" lengthAdjust="spacingAndGlyphs" style="stroke-width:0.70">10PCS</text>
<text x="861.14" y="669.04" font-size="26.27" font-weight="bold" textLength="73.41" lengthAdjust="spacingAndGlyphs" style="stroke-width:0.20">14PCS</text>
<text x="862.70" y="736.27" font-size="24.01" font-weight="bold" textLength="73.41" lengthAdjust="spacingAndGlyphs" style="stroke-width:0.20">28PCS</text>
</svg>
</body></html>
